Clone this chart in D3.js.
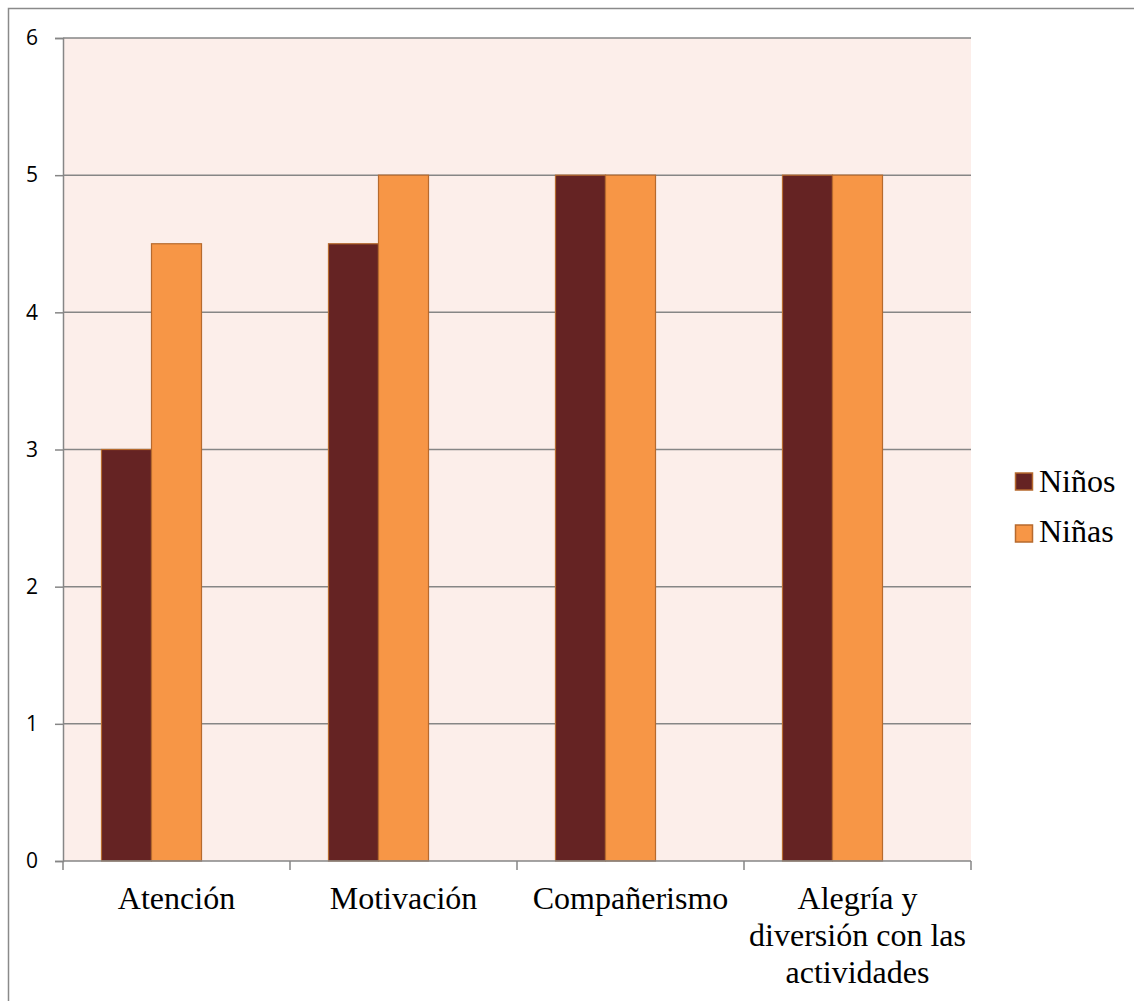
<!DOCTYPE html>
<html>
<head>
<meta charset="utf-8">
<script src="https://cdn.jsdelivr.net/npm/d3@7"></script>
<style>
  body { margin: 0; background: #fff; }
  .y-axis text { font-family: 'Open Sans', 'Liberation Sans', sans-serif; font-size: 21px; fill: #000; }
</style>
</head>
<body>
<div id="chart"></div>
<script>
// data
var categories = ["Atención", "Motivación", "Compañerismo", "Alegría y diversión con las actividades"];
var categoryLines = [["Atención"], ["Motivación"], ["Compañerismo"], ["Alegría y", "diversión con las", "actividades"]];
var seriesNames = ["Niños", "Niñas"];
var ninos = [3, 4.5, 5, 5];
var ninas = [4.5, 5, 5, 5];
var yTicks = [0, 1, 2, 3, 4, 5, 6];

var colors = ["#652323", "#F79646"];
var serif = "'Liberation Serif', 'Times New Roman', serif";

var svgWidth = 1134, svgHeight = 1001;
var margin = { top: 38, left: 63, right: 1134 - 971, bottom: 1001 - 861 };
var width = svgWidth - margin.left - margin.right;
var height = svgHeight - margin.top - margin.bottom;

var svg = d3.select("#chart").append("svg")
  .attr("width", svgWidth)
  .attr("height", svgHeight);

// outer chart border (only left and top fall inside the picture)
svg.append("rect")
  .attr("x", 8.5).attr("y", 8.5)
  .attr("width", 1200).attr("height", 1200)
  .attr("fill", "none")
  .attr("stroke", "#8a8a8a")
  .attr("stroke-width", 1.5);

var chartGroup = svg.append("g")
  .attr("transform", `translate(${margin.left}, ${margin.top})`);

// plot area background
chartGroup.append("rect")
  .attr("width", width).attr("height", height)
  .attr("fill", "#FCEEEA");

var x0 = d3.scaleBand()
  .domain(categories)
  .range([0, width])
  .paddingInner(0.339)
  .paddingOuter(0.1695);

// three slots per group, the third one stays empty
var x1 = d3.scaleBand()
  .domain([0, 1, 2])
  .range([0, x0.bandwidth()]);

var y = d3.scaleLinear().domain([0, 6]).range([height, 0]);

// gridlines
chartGroup.selectAll(".grid")
  .data(yTicks.filter(d => d > 0))
  .enter().append("line")
  .attr("x1", 0).attr("x2", width)
  .attr("y1", d => y(d)).attr("y2", d => y(d))
  .attr("stroke", "#868686")
  .attr("stroke-width", 1.5);

// bars
var rows = categories.map((c, i) => ({ cat: c, vals: [ninos[i], ninas[i]] }));
var groups = chartGroup.selectAll(".grp")
  .data(rows)
  .enter().append("g")
  .attr("transform", d => `translate(${x0(d.cat)},0)`);

groups.selectAll("rect")
  .data(d => d.vals.map((v, k) => ({ v: v, k: k })))
  .enter().append("rect")
  .attr("x", d => x1(d.k))
  .attr("y", d => y(d.v))
  .attr("width", x1.bandwidth())
  .attr("height", d => height - y(d.v))
  .attr("fill", d => colors[d.k])
  .attr("stroke", "#B66A2E")
  .attr("stroke-width", 1.2);

// y axis
var leftAxis = d3.axisLeft(y).tickValues(yTicks).tickSize(8).tickPadding(17).tickFormat(d3.format("d"));
var yAxis = chartGroup.append("g")
  .classed("y-axis", true)
  .call(leftAxis)
  .attr("font-size", 21)
  .attr("font-family", "'Open Sans', sans-serif");
yAxis.select(".domain").attr("stroke", "#868686").attr("stroke-width", 1.5);
yAxis.selectAll(".tick line").attr("stroke", "#868686").attr("stroke-width", 1.5);

// x axis with tick marks at category boundaries
var xAxis = chartGroup.append("g").attr("transform", `translate(0, ${height})`);
xAxis.append("line")
  .attr("x1", 0).attr("x2", width)
  .attr("stroke", "#868686").attr("stroke-width", 1.5);
var step = width / categories.length;
xAxis.selectAll(".xt")
  .data(d3.range(categories.length + 1))
  .enter().append("line")
  .attr("x1", d => d * step).attr("x2", d => d * step)
  .attr("y1", 0).attr("y2", 9)
  .attr("stroke", "#868686").attr("stroke-width", 1.5);

var labels = xAxis.selectAll(".xl")
  .data(categories)
  .enter().append("text")
  .attr("x", (d, i) => i * step + step / 2)
  .attr("text-anchor", "middle")
  .style("font-family", serif)
  .style("font-size", "32px")
  .attr("fill", "#000");
labels.selectAll("tspan")
  .data((d, i) => categoryLines[i])
  .enter().append("tspan")
  .attr("x", function() { return d3.select(this.parentNode).attr("x"); })
  .attr("y", (d, j) => 48 + j * 37)
  .text(d => d);

// legend
var legend = svg.append("g").attr("transform", "translate(1015, 0)");
seriesNames.forEach(function(name, i) {
  var top = 473 + i * 52;
  legend.append("rect")
    .attr("x", 0.5).attr("y", top)
    .attr("width", 17).attr("height", 17)
    .attr("fill", colors[i])
    .attr("stroke", "#B66A2E").attr("stroke-width", 1.5);
  legend.append("text")
    .attr("x", 24).attr("y", 492 + i * 50)
    .style("font-family", serif)
    .style("font-size", "32px")
    .attr("fill", "#000")
    .text(name);
});
</script>
</body>
</html>
